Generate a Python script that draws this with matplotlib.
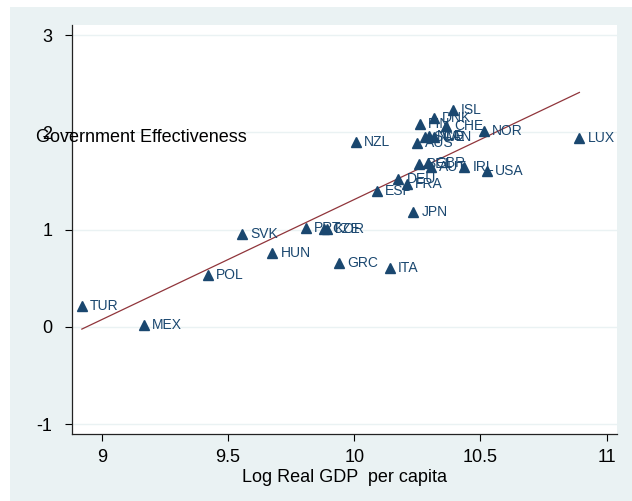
"""Government effectiveness vs. log real GDP per capita, OECD countries."""

import matplotlib.pyplot as plt
import numpy as np
from matplotlib.patches import Rectangle

plt.rcParams["font.family"] = ["Liberation Sans", "DejaVu Sans"]
plt.rcParams["axes.unicode_minus"] = False

countries = [
    "TUR", "MEX", "POL", "SVK", "HUN", "PRT", "CZE", "KOR", "GRC", "ITA",
    "JPN", "ESP", "DEU", "FRA", "NZL", "AUS", "SWE", "NLD", "CAN", "FIN",
    "DNK", "ISL", "CHE", "NOR", "BEL", "GBR", "AUT", "IRL", "USA", "LUX",
]
log_gdp = [
    8.921, 9.168, 9.420, 9.556, 9.676, 9.809, 9.882, 9.893, 9.941, 10.142,
    10.234, 10.091, 10.175, 10.208, 10.007, 10.250, 10.280, 10.295, 10.315, 10.261,
    10.317, 10.390, 10.364, 10.514, 10.257, 10.291, 10.304, 10.436, 10.527, 10.892,
]
gov_eff = [
    0.216, 0.024, 0.538, 0.956, 0.757, 1.020, 1.004, 1.007, 0.661, 0.606,
    1.179, 1.401, 1.521, 1.467, 1.904, 1.894, 1.950, 1.960, 1.950, 2.090,
    2.150, 2.230, 2.060, 2.014, 1.675, 1.689, 1.644, 1.647, 1.606, 1.939,
]

x_ticks = [9, 9.5, 10, 10.5, 11]
x_tick_labels = ["9", "9.5", "10", "10.5", "11"]
y_ticks = [-1, 0, 1, 2, 3]

NAVY = "#1a476f"
MAROON = "#90353b"
BG = "#eaf2f3"

W, H = 632, 501
fig = plt.figure(figsize=(W / 100, H / 100), dpi=100, facecolor="white")

# Stata-style graph region behind the plot
fig.patches.append(
    Rectangle((10 / W, 0), (W - 10) / W, (H - 7) / H,
              transform=fig.transFigure, facecolor=BG, edgecolor="none", zorder=-1)
)

ax = fig.add_axes([72 / W, (H - 434) / H, (617 - 72) / W, (434 - 25) / H])
ax.set_facecolor("white")

x = np.array(log_gdp)
y = np.array(gov_eff)

# linear fit over the observed range
slope, intercept = np.polyfit(x, y, 1)
xf = np.array([x.min(), x.max()])
ax.plot(xf, intercept + slope * xf, color=MAROON, lw=0.9, zorder=2)

ax.plot(x, y, linestyle="none", marker="^", ms=6.5, color=NAVY, zorder=3)
for name, xi, yi in zip(countries, x, y):
    ax.annotate(name, (xi, yi), xytext=(5.8, 0), textcoords="offset points",
                va="center", ha="left", fontsize=10, color=NAVY, zorder=4)

ax.set_xlim(8.882, 11.041)
ax.set_ylim(-1.10, 3.103)
ax.set_xticks(x_ticks)
ax.set_xticklabels(x_tick_labels)
ax.set_yticks(y_ticks)
ax.tick_params(axis="both", labelsize=13, length=5, width=0.8, color="black")
ax.tick_params(axis="y", pad=9)
ax.tick_params(axis="x", pad=6)

ax.grid(axis="y", color=BG, lw=1.0, zorder=0)
ax.set_axisbelow(True)
for side in ("top", "right"):
    ax.spines[side].set_visible(False)
for side in ("left", "bottom"):
    ax.spines[side].set_linewidth(0.9)
    ax.spines[side].set_color("#222222")

ax.set_xlabel("Log Real GDP  per capita", fontsize=13, labelpad=2)
fig.text(141 / W, 1 - 137 / H, "Government Effectiveness", fontsize=13,
         ha="center", va="center")

fig.savefig("out.png", dpi=100)
